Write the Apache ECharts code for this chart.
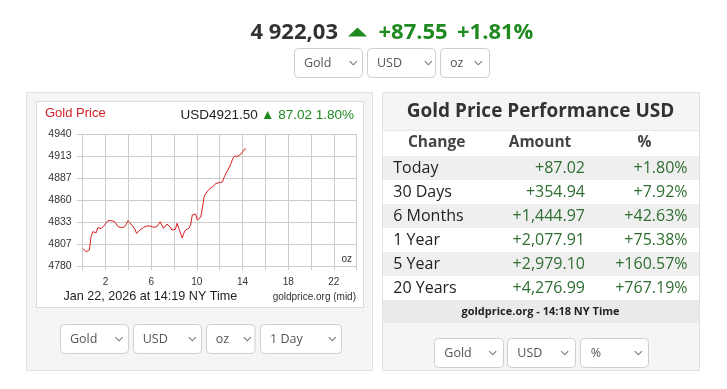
<!DOCTYPE html>
<html><head><meta charset="utf-8">
<script src="https://cdn.jsdelivr.net/npm/echarts@6/dist/echarts.min.js"></script>
<style>html,body{margin:0;padding:0;background:#fff}#c{width:727px;height:389px}</style>
</head><body><div id="c"></div>
<script>
// ---- data ----
const times = [0,9,18,27,35,44,53,62,71,80,89,97,106,115,124,133,142,151,159,168,177,186,195,204,213,221,230,239,248,257,266,275,283,292,301,310,319,328,337,345,354,363,372,381,390,399,407,416,425,434,443,452,461,469,478,487,496,505,514,523,531,540,549,558,567,576,585,593,602,611,620,629,638,647,655,664,673,682,691,700,709,717,726,735,744,753,762,771,779,788,797,806,815,824,833,841,850,859];
const prices = [4801.4,4799.4,4797.4,4796.2,4799.4,4815.6,4821.6,4823.6,4820.4,4826.5,4826.9,4825.3,4823.6,4829.7,4832.5,4835.0,4836.6,4835.0,4835.0,4833.7,4832.5,4827.7,4829.7,4826.5,4825.7,4827.7,4828.9,4835.0,4832.5,4829.7,4827.7,4824.5,4819.6,4821.6,4823.6,4824.9,4826.5,4827.7,4828.5,4829.7,4828.5,4828.5,4826.9,4827.7,4827.7,4828.5,4833.7,4829.7,4825.7,4827.7,4830.9,4829.7,4826.9,4823.6,4821.6,4824.5,4831.7,4825.7,4819.6,4814.0,4819.6,4823.6,4824.5,4825.7,4829.7,4841.8,4843.8,4843.0,4835.8,4835.8,4839.0,4850.0,4864.0,4868.0,4870.0,4873.0,4874.0,4876.0,4877.0,4880.0,4882.0,4881.0,4879.0,4882.0,4888.0,4892.0,4896.0,4900.0,4904.0,4910.0,4913.0,4912.0,4913.0,4914.0,4916.0,4918.6,4921.4,4921.8];
const yTickLabels = ['4780','4807','4833','4860','4887','4913','4940'];
const xTickLabels = ['2','6','10','14','18','22'];
const periods = ['Today','30 Days','6 Months','1 Year','5 Year','20 Years'];
const amounts = [87.02, 354.94, 1444.97, 2077.91, 2979.10, 4276.99];
const percents = [1.80, 7.92, 42.63, 75.38, 160.57, 767.19];
const spotText = '4 922,03';
const spotChange = 87.55;
const spotChangePct = 1.81;
const chartPrice = 4921.50;
const chartChange = 87.02;
const chartChangePct = 1.80;
const stampText = 'Jan 22, 2026 at 14:19 NY Time';
const tableFooter = 'goldprice.org - 14:18 NY Time';

// ---- helpers ----
const OS = '"Open Sans", sans-serif';
const LS = '"Liberation Sans", Arial, sans-serif';
const GREEN = '#1f8a1f';
const TGREEN = '#2f6e32';
const els = [];
function rect(x,y,w,h,fill,stroke,r,z){els.push({type:'rect',z:z===undefined?-5:z,shape:{x:x,y:y,width:w,height:h,r:r||0},style:{fill:fill,stroke:stroke||null,lineWidth:1}});}
function text(x,y,t,font,fill,align,valign){els.push({type:'text',z:5,x:x,y:y,style:{text:t,font:font,fill:fill,textAlign:align||'left',textVerticalAlign:valign||'middle'}});}
function chevron(cx,cy){els.push({type:'polyline',z:5,shape:{points:[[cx-3.5,cy-1.8],[cx,cy+1.8],[cx+3.5,cy-1.8]]},style:{stroke:'#777',lineWidth:1.1,fill:null}});}
function dropdown(x0,x1,y0,y1,label,tx,cx){rect(x0,y0,x1-x0,y1-y0,'#fff','#cfcfcf',4,1);text(tx,(y0+y1)/2,label,'12.5px '+OS,'#555','left','middle');chevron(cx,(y0+y1)/2);}
function fmt(v){return v.toLocaleString('en-US',{minimumFractionDigits:2,maximumFractionDigits:2});}

// top header
text(250.5,32.5,spotText,'bold 22px '+OS,'#333');
els.push({type:'polygon',z:5,shape:{points:[[348,36.5],[357.5,27.5],[367,36.5]]},style:{fill:GREEN}});
text(378.5,32.5,'+'+spotChange.toFixed(2),'bold 22px '+OS,GREEN);
text(457,32.5,'+'+spotChangePct.toFixed(2)+'%','bold 22px '+OS,GREEN);
dropdown(294.5,362.5,48.5,77.5,'Gold',304,353.3);
dropdown(367.5,435.5,48.5,77.5,'USD',377,428.3);
dropdown(440.5,489.5,48.5,77.5,'oz',450,478.3);

// left panel
rect(26.5,92.5,346,278,'#f5f5f5','#e2e2e2',0,-10);
rect(36.5,101.5,327,206,'#fff','#dadada',0,-6);
text(45,113,'Gold Price','13px '+LS,'#d5222a');
els.push({type:'text',z:5,x:354,y:115.5,style:{rich:{a:{fill:'#222',font:'13.5px '+LS},g:{fill:GREEN,font:'13.5px '+LS}},text:'{a|USD'+chartPrice.toFixed(2)+'} {g|\u25B2 '+chartChange.toFixed(2)+' '+chartChangePct.toFixed(2)+'%}',textAlign:'right',textVerticalAlign:'middle'}});
text(346.7,259.5,'oz','10px '+LS,'#333','center');
text(63.5,297,stampText,'12.6px '+LS,'#222');
text(356,297.5,'goldprice.org (mid)','10px '+LS,'#333','right');
dropdown(60.5,128.5,324.5,353.5,'Gold',70,119);
dropdown(133.5,201.5,324.5,353.5,'USD',142.7,192.3);
dropdown(206.5,255,324.5,353.5,'oz',215.7,247.3);
dropdown(260.5,341.5,324.5,353.5,'1 Day',270,332.3);

// right panel
rect(382.5,92.5,317,278,'#f5f5f5','#e2e2e2',0,-10);
rect(383,130,316,170,'#fff',null,0,-8);
els.push({type:'line',z:-7,shape:{x1:383,y1:130.5,x2:699,y2:130.5},style:{stroke:'#e6e6e6',lineWidth:1}});
text(540.5,112,'Gold Price Performance USD','bold 19px '+OS,'#333','center');
text(436.7,143,'Change','bold 15.5px '+OS,'#444','center');
text(540,143,'Amount','bold 15.5px '+OS,'#444','center');
text(644.5,143,'%','bold 15.5px '+OS,'#444','center');
periods.forEach(function(p,i){
  var y0 = 156 + i*24;
  if(i%2===0) rect(383,y0,316,24,'#efefef',null,0,-7);
  text(393.3,y0+12,p,'16px '+OS,'#222');
  text(585,y0+12,'+'+fmt(amounts[i]),'16px '+OS,TGREEN,'right');
  text(687.5,y0+12,'+'+fmt(percents[i])+'%','16px '+OS,TGREEN,'right');
});
rect(383,300,316,23,'#eaeaea',null,0,-7);
text(540.5,311.7,tableFooter,'bold 11px '+OS,'#222','center');
dropdown(434.5,503.5,338.5,367.5,'Gold',444.3,492.7);
dropdown(507.5,575.5,338.5,367.5,'USD',517.3,564.7);
dropdown(580.5,648.5,338.5,367.5,'%',590.7,638.3);

const chart = echarts.init(document.getElementById('c'));
chart.setOption({
  animation:false,
  backgroundColor:'#fff',
  graphic:{elements:els},
  grid:{left:82.7,right:727-356.7,top:134,bottom:389-266,containLabel:false},
  xAxis:{type:'value',min:0,max:1440,interval:120,
    axisLine:{show:false},
    axisTick:{show:true,length:4,lineStyle:{color:'#ccc'}},
    splitLine:{show:true,lineStyle:{color:'#ccc',width:1}},
    axisLabel:{margin:11,color:'#333',fontSize:10,fontFamily:LS,
      formatter:function(v){var h=String(v/60);return xTickLabels.indexOf(h)>=0?h:'';}}},
  yAxis:[
    {type:'value',min:4780,max:4940,show:false,splitLine:{show:false}},
    {type:'category',data:yTickLabels,boundaryGap:false,position:'left',
      axisLine:{show:false},
      axisTick:{show:true,length:6,lineStyle:{color:'#ccc'}},
      splitLine:{show:true,lineStyle:{color:'#ccc',width:1}},
      axisLabel:{margin:11,color:'#333',fontSize:10.5,fontFamily:LS}}
  ],
  series:[{type:'line',yAxisIndex:0,showSymbol:false,symbol:'none',
    lineStyle:{color:'#d81e1e',width:1},
    data:times.map(function(t,i){return [t,prices[i]];})}]
});
</script></body></html>
